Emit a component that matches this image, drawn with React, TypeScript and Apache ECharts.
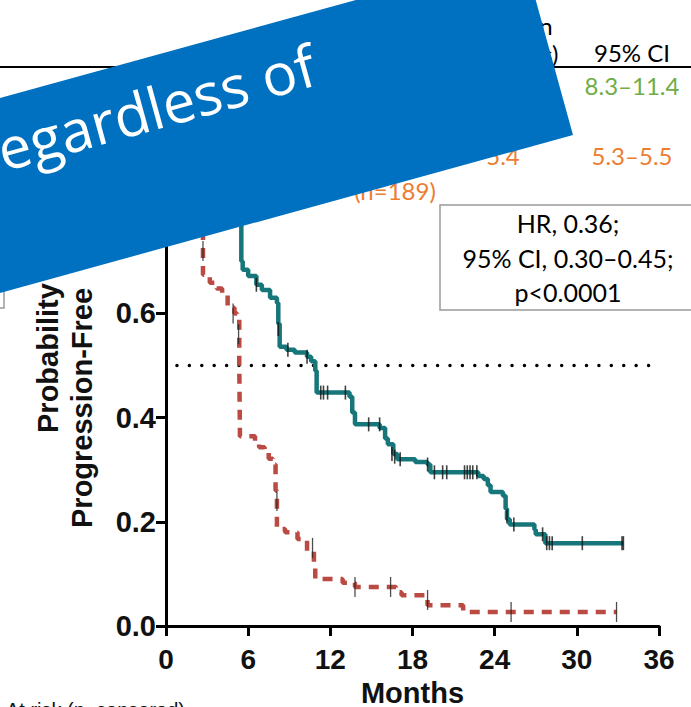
import React, { useEffect, useRef } from "react";
import * as echarts from "echarts";

// Kaplan–Meier curves: [month, probability progression-free]
const tealCurve: [number, number][] = [
  [0, 1], [1.4, 0.97], [2.7, 0.94], [2.8, 0.9], [4.1, 0.86], [5.0, 0.82], [5.4, 0.77],
  [5.5, 0.7], [5.6, 0.684], [6.0, 0.672], [6.6, 0.655], [7.0, 0.645], [7.6, 0.63],
  [8.1, 0.62], [8.2, 0.58], [8.3, 0.536], [8.8, 0.53], [9.4, 0.525], [10.3, 0.517],
  [10.6, 0.508], [10.9, 0.49], [11.0, 0.448], [13.4, 0.44], [13.6, 0.41], [13.8, 0.387],
  [15.6, 0.38], [16.0, 0.36], [16.2, 0.349], [16.6, 0.33], [16.9, 0.32], [18.2, 0.315],
  [19.1, 0.31], [19.3, 0.295], [22.8, 0.288], [23.2, 0.282], [23.5, 0.27], [23.7, 0.257],
  [24.6, 0.25], [24.8, 0.225], [24.9, 0.205], [25.1, 0.195], [26.9, 0.185], [27.0, 0.176],
  [27.7, 0.159], [33.4, 0.159],
];
const redCurve: [number, number][] = [
  [0, 1], [1.3, 0.97], [1.4, 0.92], [2.6, 0.9], [2.7, 0.674], [3.2, 0.659], [3.7, 0.648],
  [4.1, 0.636], [4.5, 0.611], [5.0, 0.6], [5.2, 0.592], [5.35, 0.5], [5.4, 0.364],
  [6.5, 0.354], [6.8, 0.343], [7.2, 0.333], [7.5, 0.321], [7.8, 0.31], [8.0, 0.26],
  [8.1, 0.186], [8.7, 0.18], [9.6, 0.167], [10.3, 0.144], [10.8, 0.12], [10.9, 0.09],
  [12.9, 0.083], [13.8, 0.075], [16.8, 0.065], [17.2, 0.059], [19.1, 0.04], [21.7, 0.027],
  [32.9, 0.027],
];
const tealCensored: [number, number][] = [
  [6.6, 0.655], [8.2, 0.57], [8.9, 0.53], [10.3, 0.517], [11.3, 0.448], [11.5, 0.448],
  [11.8, 0.448], [13.1, 0.448], [14.8, 0.387], [15.6, 0.387], [16.5, 0.33], [16.7, 0.325],
  [17.1, 0.32], [19.1, 0.31], [19.6, 0.295], [20.2, 0.295], [20.5, 0.295], [21.8, 0.295],
  [22.0, 0.295], [22.2, 0.295], [22.4, 0.295], [22.7, 0.295], [24.9, 0.21], [25.4, 0.195],
  [27.5, 0.176], [27.8, 0.159], [28.0, 0.159], [28.2, 0.159], [30.4, 0.159], [33.3, 0.159],
  [33.4, 0.159],
];
const redCensored: [number, number][] = [
  [2.7, 0.72], [4.9, 0.6], [5.3, 0.56], [8.1, 0.24], [10.7, 0.15], [13.8, 0.075],
  [16.4, 0.075], [19.1, 0.05], [25.2, 0.027], [32.9, 0.027],
];
const medianLine: [number, number][] = [[0.8, 0.5], [35.6, 0.5]];
const yLabelsShown = ["0.0", "0.2", "0.4", "0.6"];

const headerMedian = "Median\n(months)";
const headerCI = "95% CI";
const greenCI = "8.3–11.4";
const orangeMedian = "5.4";
const orangeCI = "5.3–5.5";
const orangeN = "(n=189)";
const hrLines = ["HR, 0.36;", "95% CI, 0.30–0.45;", "p<0.0001"];
const bannerText = "egardless of";
const atRiskText = "At risk (n, censored)";

const TEAL = "#17767A";
const RED = "#BA4A42";
const SANS = "'Liberation Sans', Arial, sans-serif";
const TBL = "Lato, 'Open Sans', sans-serif";

export default function App() {
  const ref = useRef<HTMLDivElement>(null);
  useEffect(() => {
    const chart = echarts.init(ref.current!, null, { renderer: "svg" });
    const ang = (15.4 * Math.PI) / 180;
    const option: any = {
      animation: false,
      backgroundColor: "#ffffff",
      grid: { left: 166, width: 493, top: 105, height: 521, containLabel: false, outerBoundsMode: "none" },
      xAxis: {
        type: "value",
        min: 0,
        max: 36,
        interval: 6,
        name: "Months",
        nameLocation: "middle",
        nameGap: 52,
        nameTextStyle: { fontFamily: SANS, fontWeight: "bold", fontSize: 29, lineHeight: 29, color: "#111" },
        axisLine: { lineStyle: { color: "#000", width: 3 } },
        axisTick: { show: true, length: 10, lineStyle: { color: "#000", width: 3 } },
        axisLabel: { fontFamily: SANS, fontWeight: "bold", fontSize: 28, color: "#111", margin: 19 },
        splitLine: { show: false },
      },
      yAxis: {
        type: "value",
        min: 0,
        max: 1,
        interval: 0.2,
        axisLine: { show: true, lineStyle: { color: "#000", width: 3 } },
        axisTick: { show: true, length: 10, lineStyle: { color: "#000", width: 3 } },
        axisLabel: {
          fontFamily: SANS,
          fontWeight: "bold",
          fontSize: 29,
          color: "#111",
          margin: 10,
          formatter: (v: number) => {
            const s = v.toFixed(1);
            return yLabelsShown.includes(s) ? s : "";
          },
        },
        splitLine: { show: false },
      },
      series: [
        {
          type: "line",
          data: medianLine,
          showSymbol: false,
          silent: true,
          lineStyle: { color: "#000", width: 3.5, type: [0.01, 12.4], cap: "round" },
          z: 1,
        },
        {
          type: "line",
          data: tealCurve,
          step: "end",
          showSymbol: false,
          lineStyle: { color: TEAL, width: 4.5 },
          z: 3,
        },
        {
          type: "line",
          data: redCurve,
          step: "end",
          showSymbol: false,
          lineStyle: { color: RED, width: 4.5, type: [10, 8] },
          z: 3,
        },
        {
          type: "scatter",
          data: tealCensored,
          symbol: "rect",
          symbolSize: [1.6, 14],
          itemStyle: { color: "#111" },
          z: 4,
        },
        {
          type: "scatter",
          data: redCensored,
          symbol: "rect",
          symbolSize: [1.3, 20],
          itemStyle: { color: "#222" },
          z: 4,
        },
      ],
      graphic: [
        // table rule
        { type: "line", z: 50, shape: { x1: 0, y1: 67, x2: 691, y2: 67 }, style: { stroke: "#000", lineWidth: 2 } },
        {
          type: "text", z: 50, x: 513, y: 39,
          style: { text: headerMedian, fontFamily: TBL, fontSize: 24, fill: "#000", align: "center", verticalAlign: "middle", lineHeight: 28 },
        },
        { type: "text", z: 50, x: 632, y: 52, style: { text: headerCI, fontFamily: TBL, fontSize: 24, fill: "#000", align: "center", verticalAlign: "middle" } },
        { type: "text", z: 50, x: 632, y: 85, style: { text: greenCI, fontFamily: TBL, fontSize: 24, fill: "#70AD47", align: "center", verticalAlign: "middle" } },
        { type: "text", z: 50, x: 503, y: 155, style: { text: orangeMedian, fontFamily: TBL, fontSize: 24, fill: "#ED7D31", align: "center", verticalAlign: "middle" } },
        { type: "text", z: 50, x: 632, y: 155, style: { text: orangeCI, fontFamily: TBL, fontSize: 24, fill: "#ED7D31", align: "center", verticalAlign: "middle" } },
        { type: "text", z: 50, x: 395, y: 190, style: { text: orangeN, fontFamily: TBL, fontSize: 24, fill: "#ED7D31", align: "center", verticalAlign: "middle" } },
        // HR box
        { type: "rect", z: 50, shape: { x: 440, y: 205, width: 262, height: 105 }, style: { fill: "#fff", stroke: "#999", lineWidth: 1.5 } },
        ...hrLines.map((t, i) => ({
          type: "text", z: 51, x: 568, y: 223 + i * 34.5,
          style: { text: t, fontFamily: TBL, fontSize: 25, fill: "#000", align: "center", verticalAlign: "middle" },
        })),
        // left legend box corner
        { type: "rect", z: 50, shape: { x: -20, y: 230, width: 24, height: 78 }, style: { fill: "#fff", stroke: "#999", lineWidth: 1.5 } },
        // y-axis title
        {
          type: "text", z: 50, x: 48, y: 433, rotation: Math.PI / 2,
          style: { text: "Probability", fontFamily: SANS, fontWeight: "bold", fontSize: 29, fill: "#111", align: "left", verticalAlign: "middle" },
        },
        {
          type: "text", z: 50, x: 82, y: 528, rotation: Math.PI / 2,
          style: { text: "Progression-Free", fontFamily: SANS, fontWeight: "bold", fontSize: 29, fill: "#111", align: "left", verticalAlign: "middle" },
        },
        // at risk heading (clipped at bottom)
        {
          type: "text", z: 50, x: 6, y: 700,
          style: { text: atRiskText, fontFamily: SANS, fontSize: 20, fill: "#111", align: "left", verticalAlign: "top" },
        },
        // banner
        {
          type: "polygon", z: 100,
          shape: { points: [[-200, 153], [523, -46], [573, 135], [-200, 348]] },
          style: { fill: "#0070C0" },
        },
        {
          type: "text", z: 101, x: -2, y: 150, rotation: ang,
          style: { text: bannerText, fontFamily: "'Open Sans', sans-serif", fontSize: 58, fill: "#ffffff", align: "left", verticalAlign: "middle" },
        },
      ],
    };
    chart.setOption(option);
    return () => chart.dispose();
  }, []);
  return (
    <div
      ref={ref}
      style={{ position: "fixed", left: 0, top: 0, width: 691, height: 707, background: "#fff" }}
    />
  );
}
